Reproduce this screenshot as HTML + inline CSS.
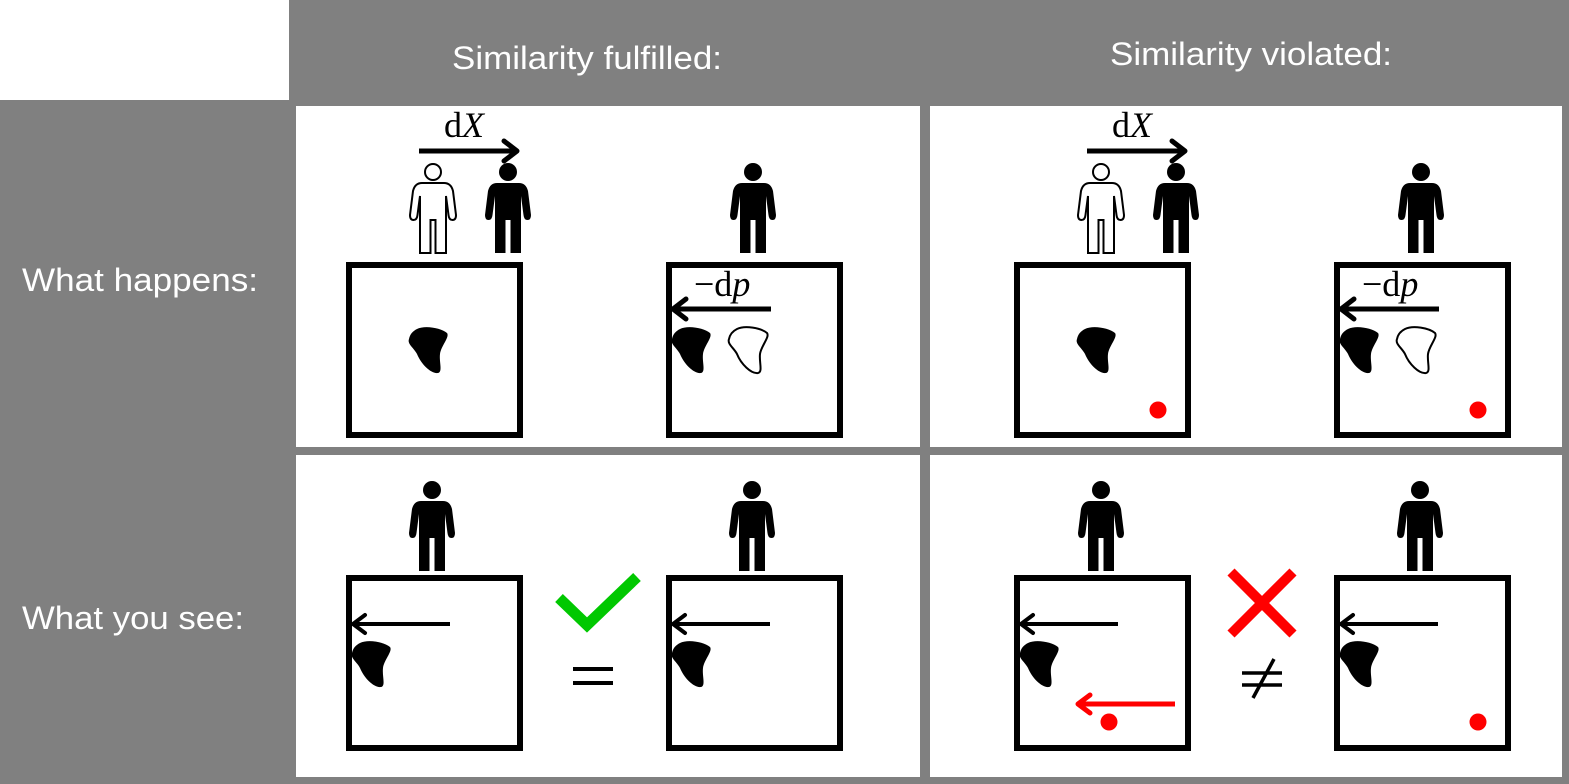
<!DOCTYPE html>
<html><head><meta charset="utf-8"><style>html,body{margin:0;padding:0;background:#fff}svg{display:block}</style></head>
<body>
<svg width="1569" height="784" viewBox="0 0 1569 784" xmlns="http://www.w3.org/2000/svg">
<defs>
<path id="body" d="M11,20 H33 Q40,20 42,28 L45,52 Q45,57 41.5,57 Q38,57 37.5,52 L35,33 V90 H24.5 V57 H19.5 V90 H9 V33 L6.5,52 Q6,57 2.5,57 Q-1,57 -1,52 L2,28 Q4,20 11,20 Z"/>
<path id="blob" d="M8,3 C16,-1 32,2 38,7 C41,11 32,20 31,28 C30,36 34,46 29,47 C22,48 12,38 8,28 C5,22 -2,18 0,13 C1,8 4,5 8,3 Z"/>
<g id="pf"><circle cx="22" cy="9" r="9"/><use href="#body"/></g>
<g id="po" fill="#fff" stroke="#000" stroke-width="2"><circle cx="22" cy="9" r="8"/><path d="M11,20 H33 Q40,20 42,28 L45,52 Q45,57 41.5,57 Q38,57 37.5,52 L35,33 V90 H24.5 V57 H19.5 V90 H9 V33 L6.5,52 Q6,57 2.5,57 Q-1,57 -1,52 L2,28 Q4,20 11,20 Z"/></g>
</defs>
<rect x="0" y="0" width="1569" height="784" fill="#808080"/>
<rect x="0" y="0" width="289" height="100" fill="#fff"/>
<rect x="296" y="106" width="624" height="341" fill="#fff"/>
<rect x="930" y="106" width="632" height="341" fill="#fff"/>
<rect x="296" y="455" width="624" height="322" fill="#fff"/>
<rect x="930" y="455" width="632" height="322" fill="#fff"/>
<g font-family="Liberation Sans, sans-serif" font-size="32" fill="#fff">
<text x="452" y="69" textLength="270" lengthAdjust="spacingAndGlyphs">Similarity fulfilled:</text>
<text x="1110" y="65" textLength="282" lengthAdjust="spacingAndGlyphs">Similarity violated:</text>
<text x="22" y="291" textLength="236" lengthAdjust="spacingAndGlyphs">What happens:</text>
<text x="22" y="629" textLength="222" lengthAdjust="spacingAndGlyphs">What you see:</text>
</g>
<g fill="none" stroke="#000" stroke-width="6">
<rect x="349" y="265" width="171" height="170"/>
<rect x="669" y="265" width="171" height="170"/>
<rect x="1017" y="265" width="171" height="170"/>
<rect x="1337" y="265" width="171" height="170"/>
<rect x="349" y="578" width="171" height="170"/>
<rect x="669" y="578" width="171" height="170"/>
<rect x="1017" y="578" width="171" height="170"/>
<rect x="1337" y="578" width="171" height="170"/>
</g>
<use href="#po" x="411" y="163"/>
<use href="#pf" x="486" y="163"/>
<use href="#pf" x="731" y="163"/>
<use href="#po" x="1079" y="163"/>
<use href="#pf" x="1154" y="163"/>
<use href="#pf" x="1399" y="163"/>
<use href="#pf" x="410" y="481"/>
<use href="#pf" x="730" y="481"/>
<use href="#pf" x="1079" y="481"/>
<use href="#pf" x="1398" y="481"/>
<g stroke="#000" stroke-width="5" fill="none" stroke-linecap="round" stroke-linejoin="round">
<line x1="419" y1="151" x2="516" y2="151" stroke-linecap="butt"/><polyline points="504,141 517,151 504,161"/>
<line x1="1087" y1="151" x2="1184" y2="151" stroke-linecap="butt"/><polyline points="1172,141 1185,151 1172,161"/>
<line x1="674" y1="309" x2="771" y2="309" stroke-linecap="butt"/><polyline points="686,299 673,309 686,319"/>
<line x1="1342" y1="309" x2="1439" y2="309" stroke-linecap="butt"/><polyline points="1354,299 1341,309 1354,319"/>
<line x1="354" y1="624" x2="450" y2="624" stroke-linecap="butt" stroke-width="4"/><polyline points="365,615 353,624 365,633" stroke-width="4"/>
<line x1="674" y1="624" x2="770" y2="624" stroke-linecap="butt" stroke-width="4"/><polyline points="685,615 673,624 685,633" stroke-width="4"/>
<line x1="1022" y1="624" x2="1118" y2="624" stroke-linecap="butt" stroke-width="4"/><polyline points="1033,615 1021,624 1033,633" stroke-width="4"/>
<line x1="1342" y1="624" x2="1438" y2="624" stroke-linecap="butt" stroke-width="4"/><polyline points="1353,615 1341,624 1353,633" stroke-width="4"/>
<g stroke="#f00"><line x1="1078" y1="704" x2="1175" y2="704" stroke-linecap="butt"/><polyline points="1090,695 1078,704 1090,713"/></g>
</g>
<g font-family="Liberation Serif, serif" font-size="36" fill="#000">
<text x="444" y="137">d<tspan font-style="italic">X</tspan></text>
<text x="1112" y="137">d<tspan font-style="italic">X</tspan></text>
<text x="694" y="296">−d<tspan font-style="italic">p</tspan></text>
<text x="1362" y="296">−d<tspan font-style="italic">p</tspan></text>
</g>
<use href="#blob" x="409" y="326"/>
<use href="#blob" x="672" y="326"/>
<use href="#blob" x="729" y="326" fill="none" stroke="#000" stroke-width="2"/>
<use href="#blob" x="1077" y="326"/>
<use href="#blob" x="1340" y="326"/>
<use href="#blob" x="1397" y="326" fill="none" stroke="#000" stroke-width="2"/>
<use href="#blob" x="352" y="640"/>
<use href="#blob" x="672" y="640"/>
<use href="#blob" x="1020" y="640"/>
<use href="#blob" x="1340" y="640"/>
<g fill="#f00">
<circle cx="1158" cy="410" r="8.5"/>
<circle cx="1478" cy="410" r="8.5"/>
<circle cx="1109" cy="722" r="8.5"/>
<circle cx="1478" cy="722" r="8.5"/>
</g>
<polyline points="559,598 587,625 637,577" fill="none" stroke="#00c800" stroke-width="11"/>
<g stroke="#000" stroke-width="4"><line x1="573" y1="669" x2="613" y2="669"/><line x1="573" y1="683" x2="613" y2="683"/></g>
<g stroke="#f00" stroke-width="10"><line x1="1231" y1="572" x2="1293" y2="634"/><line x1="1293" y1="572" x2="1231" y2="634"/></g>
<g stroke="#000" stroke-width="3.5"><line x1="1242" y1="673" x2="1282" y2="673"/><line x1="1242" y1="685" x2="1282" y2="685"/><line x1="1274" y1="659" x2="1253" y2="698"/></g>
</svg>
</body></html>
